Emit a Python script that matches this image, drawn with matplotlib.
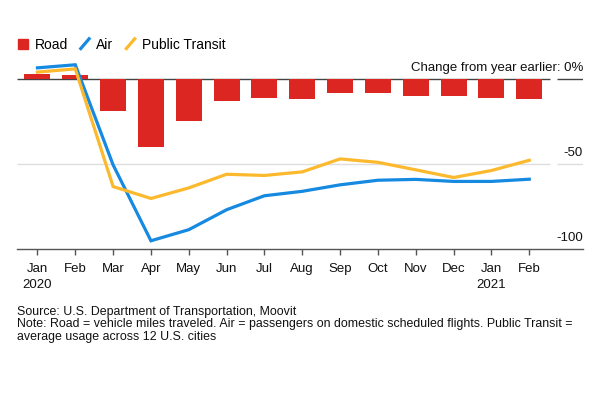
import numpy as np
import matplotlib.pyplot as plt
from matplotlib.patches import Patch
from matplotlib.lines import Line2D
from matplotlib.legend_handler import HandlerLine2D

plt.rcParams['font.family'] = ['Liberation Sans', 'DejaVu Sans']

months = ['Jan\n2020', 'Feb', 'Mar', 'Apr', 'May', 'Jun', 'Jul', 'Aug',
          'Sep', 'Oct', 'Nov', 'Dec', 'Jan\n2021', 'Feb']
road = [2.5, 2, -18.7, -40, -25, -13, -11, -12, -8.4, -8.4, -10.3, -10, -11.1, -11.7]
air = [6.4, 8.2, -50.5, -95, -88.5, -76.8, -68.6, -66, -62.2, -59.5, -59, -60.2, -60.2, -58.9]
transit = [3.9, 5.8, -63.2, -70.2, -64, -56, -56.7, -54.6, -47, -49, -53.4, -57.9, -53.8, -47.8]

RED = '#dc2622'
BLUE = '#1689e0'
YELLOW = '#fdb92d'


class SlashHandler(HandlerLine2D):
    # legend key drawn as a short diagonal stroke
    def create_artists(self, legend, orig, xd, yd, w, h, fs, trans):
        ln = Line2D([xd, xd + w], [yd - 0.1 * h, yd + 1.1 * h], color=orig.get_color(),
                    lw=orig.get_linewidth(), solid_capstyle='butt')
        ln.set_transform(trans)
        return [ln]


fig = plt.figure(figsize=(6, 4), dpi=100)
ax = fig.add_axes([17 / 600, 1 - 249.3 / 400, 566 / 600, 189.3 / 400])

x = np.arange(len(months))
ax.bar(x, road, width=0.69, color=RED, zorder=2)
ax.plot(x, air, color=BLUE, lw=2.3, zorder=3, solid_joinstyle='miter')
ax.plot(x, transit, color=YELLOW, lw=2.3, zorder=4, solid_joinstyle='miter')

xl, xr = -0.54, 14.42
ax.set_xlim(xl, xr)
ax.set_ylim(-100, 11)

# reference lines, split before the value labels on the right
ax.hlines([0], xl, 13.55, color='#444444', lw=1, zorder=1)
ax.hlines([-50], xl, 13.55, color='#dddddd', lw=1, zorder=1)
ax.hlines([0], 13.72, xr, color='#444444', lw=1, zorder=1)
ax.hlines([-50], 13.72, xr, color='#dddddd', lw=1, zorder=1)

for val, lab in [(0, 'Change from year earlier: 0%'), (-50, '-50'), (-100, '-100')]:
    ax.annotate(lab, (xr, val), xytext=(0, 8), textcoords='offset pixels',
                ha='right', va='baseline', fontsize=9.5, color='#111111')

for s in ['top', 'right', 'left']:
    ax.spines[s].set_visible(False)
ax.spines['bottom'].set_color('#555555')
ax.spines['bottom'].set_linewidth(1)
ax.set_yticks([])
ax.set_xticks(x)
ax.set_xticklabels(months, fontsize=9.5, color='#111111', linespacing=1.4)
ax.tick_params(axis='x', length=4, width=1, color='#555555', pad=6)

handles = [Patch(color=RED), Line2D([], [], color=BLUE, lw=2.3),
           Line2D([], [], color=YELLOW, lw=2.3)]
fig.legend(handles, ['Road', 'Air', 'Public Transit'], loc='upper left',
           bbox_to_anchor=(18 / 600, 1 - 38 / 400), ncol=3, frameon=False,
           fontsize=10, handlelength=0.75, handleheight=0.75, handletextpad=0.45,
           columnspacing=0.85, borderaxespad=0, borderpad=0,
           handler_map={Line2D: SlashHandler()})

fig.text(17 / 600, 1 - 305.5 / 400,
         'Source: U.S. Department of Transportation, Moovit\n'
         'Note: Road = vehicle miles traveled. Air = passengers on domestic scheduled flights. Public Transit =\n'
         'average usage across 12 U.S. cities',
         fontsize=8.9, color='#111111', va='top', ha='left', linespacing=1.1)

fig.savefig('out.png', dpi=100)
